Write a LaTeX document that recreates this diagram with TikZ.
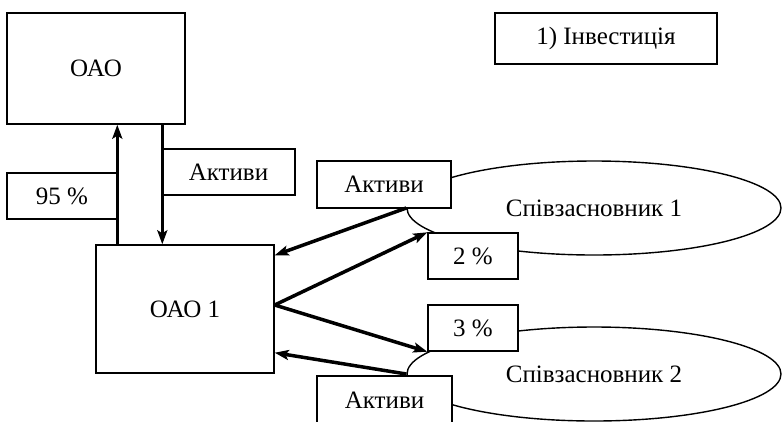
\documentclass[tikz,border=0pt]{standalone}
\usepackage{fontspec}
\setmainfont{Liberation Serif}
\usetikzlibrary{arrows.meta,shapes.geometric}
\begin{document}
\begin{tikzpicture}[x=1bp,y=-1bp,inner sep=0pt,line width=1.4bp,
  font=\fontsize{25bp}{30bp}\selectfont,
  box/.style={draw,fill=white,rectangle},
  oval/.style={draw,ellipse,minimum width=374bp,minimum height=94bp},
  flow/.style={line width=3.5bp,-{Stealth[length=14bp,width=10bp,inset=3bp]}}]
\useasboundingbox (0,0) rectangle (782,421);
\node[oval] (spiv1) at (594,208) {Співзасновник 1};
\node[oval] (spiv2) at (594,374) {Співзасновник 2};
\node[box,minimum width=178bp,minimum height=111bp] (oao)    at ( 96, 68.5) {ОАО};
\node[box,minimum width=222bp,minimum height=51bp]  (invest) at (606, 38.5) {1) Інвестиція};
\node[box,minimum width=133bp,minimum height=46bp]  (aktyvy) at (228.5,172) {Активи};
\node[box,minimum width=110bp,minimum height=46bp]  (pct95)  at ( 62,196)   {95 \%};
\node[box,minimum width=178bp,minimum height=128bp] (oao1)   at (185,309)   {ОАО 1};
\node[box,minimum width=134bp,minimum height=47bp]  (akt1)   at (384,184.5) {Активи};
\node[box,minimum width=90bp,minimum height=46bp]   (pct2)   at (473,256)   {2 \%};
\node[box,minimum width=90bp,minimum height=46bp]   (pct3)   at (473,328)   {3 \%};
\node[box,minimum width=135bp,minimum height=48bp]  (akt2)   at (384.5,400) {Активи};
\coordinate (upfoot) at ([xshift=22bp]oao1.north west);
\coordinate (downtop) at ([xshift=156bp]oao.south west);
\draw[flow] (upfoot) -- (upfoot |- oao.south);
\draw[flow] (downtop) -- (downtop |- oao1.north);
\draw[flow] (spiv1.west) -- ([yshift=-11bp]oao1.north east);
\draw[flow] ([yshift=4bp]oao1.east) -- (pct2.north west);
\draw[flow] ([yshift=4bp]oao1.east) -- (pct3.south west);
\draw[flow] (spiv2.west) -- ([yshift=21bp]oao1.south east);
\end{tikzpicture}
\end{document}
